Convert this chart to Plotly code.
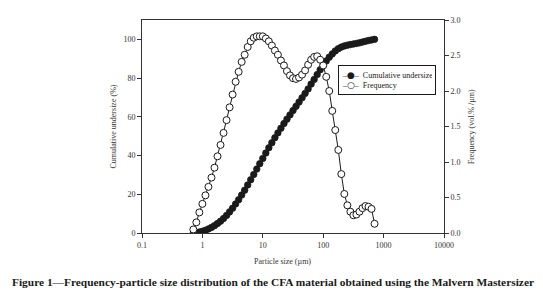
import plotly.graph_objects as go

# Particle size bins (µm), Mastersizer-style log bins
particle_size = [0.708, 0.794, 0.891, 1.000, 1.122, 1.259, 1.413, 1.585, 1.778, 1.995,
                 2.239, 2.512, 2.818, 3.162, 3.548, 3.981, 4.467, 5.012, 5.623, 6.310,
                 7.079, 7.943, 8.913, 10.000, 11.220, 12.589, 14.125, 15.849, 17.783, 19.953,
                 22.387, 25.119, 28.184, 31.623, 35.481, 39.811, 44.668, 50.119, 56.234, 63.096,
                 70.795, 79.433, 89.125, 100.000, 112.202, 125.893, 141.254, 158.489, 177.828, 199.526,
                 223.872, 251.189, 281.838, 316.228, 354.813, 398.107, 446.684, 501.187, 562.341, 630.957,
                 707.946]

cumulative_undersize = [0.0, 0.2, 0.5, 0.9, 1.4, 2.1, 2.9, 3.8, 4.9, 6.1,
                        7.5, 9.1, 10.9, 12.8, 15.0, 17.2, 19.6, 22.1, 24.8, 27.5,
                        30.2, 33.0, 35.8, 38.5, 41.3, 44.0, 46.6, 49.2, 51.7, 54.1,
                        56.5, 58.8, 61.0, 63.2, 65.4, 67.6, 69.8, 72.1, 74.4, 76.9,
                        79.3, 81.8, 84.3, 86.6, 88.8, 90.8, 92.5, 94.0, 95.2, 96.0,
                        96.6, 97.0, 97.3, 97.6, 97.9, 98.2, 98.6, 99.0, 99.4, 99.7,
                        100.0]

frequency = [0.05, 0.15, 0.29, 0.41, 0.53, 0.65, 0.78, 0.92, 1.08, 1.24,
             1.41, 1.59, 1.77, 1.95, 2.13, 2.27, 2.41, 2.51, 2.62, 2.70,
             2.75, 2.77, 2.77, 2.77, 2.74, 2.70, 2.64, 2.57, 2.51, 2.43,
             2.36, 2.28, 2.22, 2.18, 2.17, 2.19, 2.23, 2.29, 2.37, 2.44,
             2.48, 2.49, 2.44, 2.36, 2.20, 2.00, 1.72, 1.45, 1.17, 0.83,
             0.55, 0.39, 0.30, 0.25, 0.26, 0.30, 0.35, 0.38, 0.37, 0.34,
             0.13]

series_names = ["Cumulative undersize", "Frequency"]
x_tick_vals = [0.1, 1, 10, 100, 1000, 10000]
x_tick_text = ["0.1", "1", "10", "100", "1000", "10000"]
left_tick_vals = [0, 20, 40, 60, 80, 100]
right_tick_vals = [0.0, 0.5, 1.0, 1.5, 2.0, 2.5, 3.0]

SERIF = "Liberation Serif"
INK = "#1a1a1a"
AX = "#333333"

fig = go.Figure()
fig.add_trace(go.Scatter(
    x=particle_size, y=cumulative_undersize, name=series_names[0],
    mode="lines+markers",
    line=dict(color=INK, width=1),
    marker=dict(symbol="circle", size=6.5, color=INK, line=dict(color=INK, width=0.8)),
    yaxis="y", showlegend=False))
fig.add_trace(go.Scatter(
    x=particle_size, y=frequency, name=series_names[1],
    mode="lines+markers",
    line=dict(color=INK, width=1),
    marker=dict(symbol="circle", size=7, color="white", line=dict(color=INK, width=1)),
    yaxis="y2", showlegend=False))

# compact legend box (text-based key)
sym_font = "font-family:DejaVu Sans;font-size:9px"
legend_text = (
    f"–<span style='{sym_font}'>●</span>–  {series_names[0]}<br>"
    f"–<span style='{sym_font}'>○</span>–  {series_names[1]}"
)

tickfont = dict(family=SERIF, size=8, color=AX)
fig.update_layout(
    width=535, height=293,
    margin=dict(l=134, r=99, t=8, b=68),
    paper_bgcolor="white", plot_bgcolor="white",
    showlegend=False,
    xaxis=dict(type="log", range=[-1, 4], tickvals=x_tick_vals, ticktext=x_tick_text,
               ticks="outside", ticklen=4, tickcolor=AX, showline=True, linecolor=AX,
               linewidth=1, mirror=True, showgrid=False, zeroline=False, tickfont=tickfont),
    yaxis=dict(range=[0, 110], tickvals=left_tick_vals, ticks="outside", ticklen=4,
               tickcolor=AX, showline=True, linecolor=AX, linewidth=1, showgrid=False,
               zeroline=False, tickfont=tickfont),
    yaxis2=dict(range=[0, 3], tickvals=right_tick_vals, tickformat=".1f", overlaying="y",
                side="right", ticks="outside", ticklen=4, tickcolor=AX, showline=True,
                linecolor=AX, linewidth=1, showgrid=False, zeroline=False, tickfont=tickfont),
    annotations=[
        dict(text=legend_text, xref="paper", yref="paper", x=0.649, y=0.788,
             xanchor="left", yanchor="top", align="left", showarrow=False,
             width=90, height=22, valign="middle",
             bgcolor="white", bordercolor=INK, borderwidth=1, borderpad=3,
             font=dict(family=SERIF, size=8, color=INK)),
        dict(text="Particle size (µm)", xref="paper", yref="paper", x=0.465, y=-0.134,
             showarrow=False, xanchor="center", yanchor="middle",
             font=dict(family=SERIF, size=8, color=AX)),
        dict(text="Cumulative undersize (%)", xref="paper", yref="paper", x=-0.096, y=0.5,
             showarrow=False, textangle=-90, xanchor="center", yanchor="middle",
             font=dict(family=SERIF, size=8, color=AX)),
        dict(text="Frequency (vol.% /µm)", xref="paper", yref="paper", x=1.092, y=0.5,
             showarrow=False, textangle=-90, xanchor="center", yanchor="middle",
             font=dict(family=SERIF, size=8, color=AX)),
        dict(text="<b>Figure 1—Frequency-particle size distribution of the CFA material obtained using the Malvern Mastersizer</b>",
             xref="paper", yref="paper", x=0.4338, y=-0.2304, showarrow=False,
             xanchor="center", yanchor="middle",
             font=dict(family=SERIF, size=11.4, color=INK)),
    ],
)

fig.write_html("out.html")
